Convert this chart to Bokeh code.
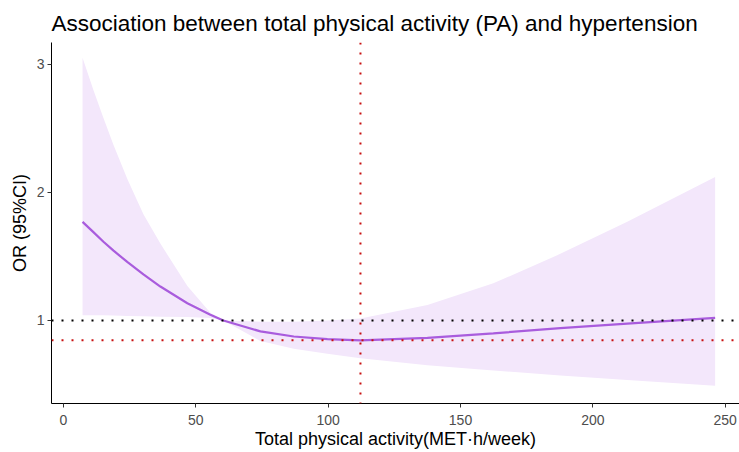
from bokeh.plotting import figure
from bokeh.models import Span, Range1d, FixedTicker
from bokeh.embed import file_html
from bokeh.resources import INLINE

# Data
pa = [7.2, 11.3, 15.1, 18.9, 24.2, 30.2, 36.6, 46.8, 55.5, 60.4, 74.4, 87.0,
      99.7, 112.2, 137.5, 162.4, 187.7, 213.0, 246.2]
or_est = [1.77, 1.69, 1.615, 1.545, 1.455, 1.36, 1.265, 1.135, 1.045, 1.0, 0.915,
          0.875, 0.855, 0.845, 0.865, 0.90, 0.94, 0.975, 1.02]
or_upper = [3.05, 2.80, 2.58, 2.37, 2.10, 1.83, 1.60, 1.27, 1.06, 1.0, 0.99,
            0.99, 1.0, 1.016, 1.12, 1.29, 1.52, 1.77, 2.12]
or_lower = [1.04, 1.04, 1.04, 1.038, 1.036, 1.034, 1.03, 1.028, 1.02, 1.0, 0.84,
            0.78, 0.74, 0.705, 0.65, 0.61, 0.57, 0.535, 0.49]
ref_or = 1.0
min_pa = 112.2
min_or = 0.845
x_ticks = [0, 50, 100, 150, 200, 250]
y_ticks = [1, 2, 3]

p = figure(width=739, height=452, output_backend="svg", toolbar_location=None,
           x_range=Range1d(-4.53, 255.4), y_range=Range1d(0.352, 3.17),
           title="Association between total physical activity (PA) and hypertension",
           x_axis_label="Total physical activity(MET·h/week)",
           y_axis_label="OR (95%CI)")
p.min_border_left = 51
p.min_border_right = 0
p.min_border_top = 42
p.min_border_bottom = 49
p.outline_line_color = None
p.background_fill_color = "white"
p.border_fill_color = "white"
p.grid.visible = False

p.title.text_font = "Liberation Sans"
p.title.text_font_size = "22.5px"
p.title.text_font_style = "normal"
p.title.text_color = "black"
p.title.offset = 0
p.title.standoff = 14

p.varea(x=pa, y1=or_lower, y2=or_upper, fill_color="#F3E7FB", fill_alpha=1.0)
p.line(pa, or_est, line_color="#A95CDD", line_width=2.2)

p.add_layout(Span(location=ref_or, dimension="width", line_color="black",
                  line_dash="2 8", line_width=2))
p.add_layout(Span(location=min_or, dimension="width", line_color="#C81010",
                  line_dash="2 8", line_width=2))
p.add_layout(Span(location=min_pa, dimension="height", line_color="#C81010",
                  line_dash="2 8", line_width=2))

for ax in (p.xaxis[0], p.yaxis[0]):
    ax.axis_line_color = "black"
    ax.axis_line_width = 1
    ax.major_tick_line_color = "#333333"
    ax.major_tick_out = 4
    ax.major_tick_in = 0
    ax.minor_tick_line_color = None
    ax.major_label_text_font = "Liberation Sans"
    ax.major_label_text_font_size = "14px"
    ax.major_label_text_color = "#4D4D4D"
    ax.axis_label_text_font = "Liberation Sans"
    ax.axis_label_text_font_size = "18px"
    ax.axis_label_text_font_style = "normal"
    ax.axis_label_text_color = "black"
    ax.major_label_standoff = 3
    ax.axis_label_standoff = 4

p.xaxis[0].major_label_standoff = 7
p.xaxis[0].axis_label_standoff = 1

p.xaxis[0].ticker = FixedTicker(ticks=x_ticks)
p.yaxis[0].ticker = FixedTicker(ticks=y_ticks)

open("out.html", "w").write(file_html(p, INLINE))
